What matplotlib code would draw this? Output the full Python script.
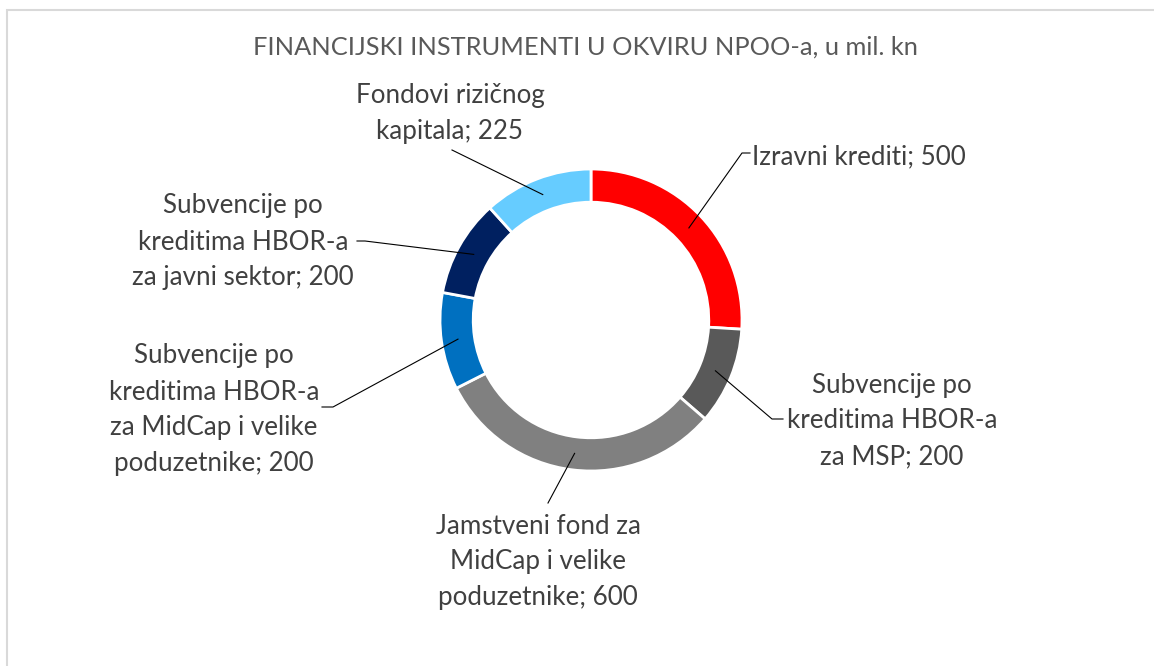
import numpy as np
import matplotlib.pyplot as plt
from matplotlib.patches import Rectangle

W, H = 1154, 666

title = "FINANCIJSKI INSTRUMENTI U OKVIRU NPOO-a, u mil. kn"
categories = [
    "Izravni krediti",
    "Subvencije po\nkreditima HBOR-a\nza MSP",
    "Jamstveni fond za\nMidCap i velike\npoduzetnike",
    "Subvencije po\nkreditima HBOR-a\nza MidCap i velike\npoduzetnike",
    "Subvencije po\nkreditima HBOR-a\nza javni sektor",
    "Fondovi rizičnog\nkapitala",
]
values = [500, 200, 600, 200, 200, 225]
colors = ["#FF0000", "#595959", "#808080", "#0070C0", "#002060", "#66CCFF"]

# label layout (pixel coords, y down): text anchor, alignment, leader elbow, leader end
label_pos = [(752, 157), (892, 421), (538, 562), (214, 410), (243, 242), (450, 113)]
label_ha = ["left", "center", "center", "center", "center", "center"]
elbows = [(742, 153), (772, 419), (548, 503), (333, 407), (365, 241), (452, 150)]
ends = [(750, 153), (783, 419), (548, 503), (322, 407), (357, 241), (452, 150)]

cx, cy, R, ring = 591, 320, 151, 0.22


def px(x, y):
    return x, H - y


plt.rcParams['font.family'] = ['Lato', 'DejaVu Sans']
fig = plt.figure(figsize=(W / 100, H / 100), dpi=100)
ax = fig.add_axes([0, 0, 1, 1])
ax.set_xlim(0, W)
ax.set_ylim(0, H)
ax.axis("off")

fig.patches.append(Rectangle((7 / W, -0.1), 1.2, (H - 10) / H + 0.1, transform=fig.transFigure,
                             fill=False, edgecolor="#D9D9D9", linewidth=1.5))

wedges, _ = ax.pie(values, colors=colors, startangle=90, counterclock=False,
                   center=px(cx, cy), radius=R,
                   wedgeprops=dict(width=R * ring, edgecolor="white", linewidth=2))
ax.set_xlim(0, W)
ax.set_ylim(0, H)
ax.set_aspect("equal")

ax.text(*px(585, 47), title, ha="center", va="center", fontsize=18.3, color="#595959")

for w, cat, v, pos, ha, el, en in zip(wedges, categories, values, label_pos, label_ha, elbows, ends):
    ang = np.deg2rad((w.theta1 + w.theta2) / 2)
    rm = R * (1 - ring / 2)
    sx, sy = cx + rm * np.cos(ang), cy - rm * np.sin(ang)
    xs = [sx, el[0], en[0]]
    ys = [H - sy, H - el[1], H - en[1]]
    ax.plot(xs, ys, color="black", linewidth=0.8)
    ax.text(*px(*pos), f"{cat}; {v}", ha=ha, va="center", multialignment="center",
            fontsize=18.7, color="#404040", linespacing=1.55)

fig.savefig("out.png", dpi=100)
